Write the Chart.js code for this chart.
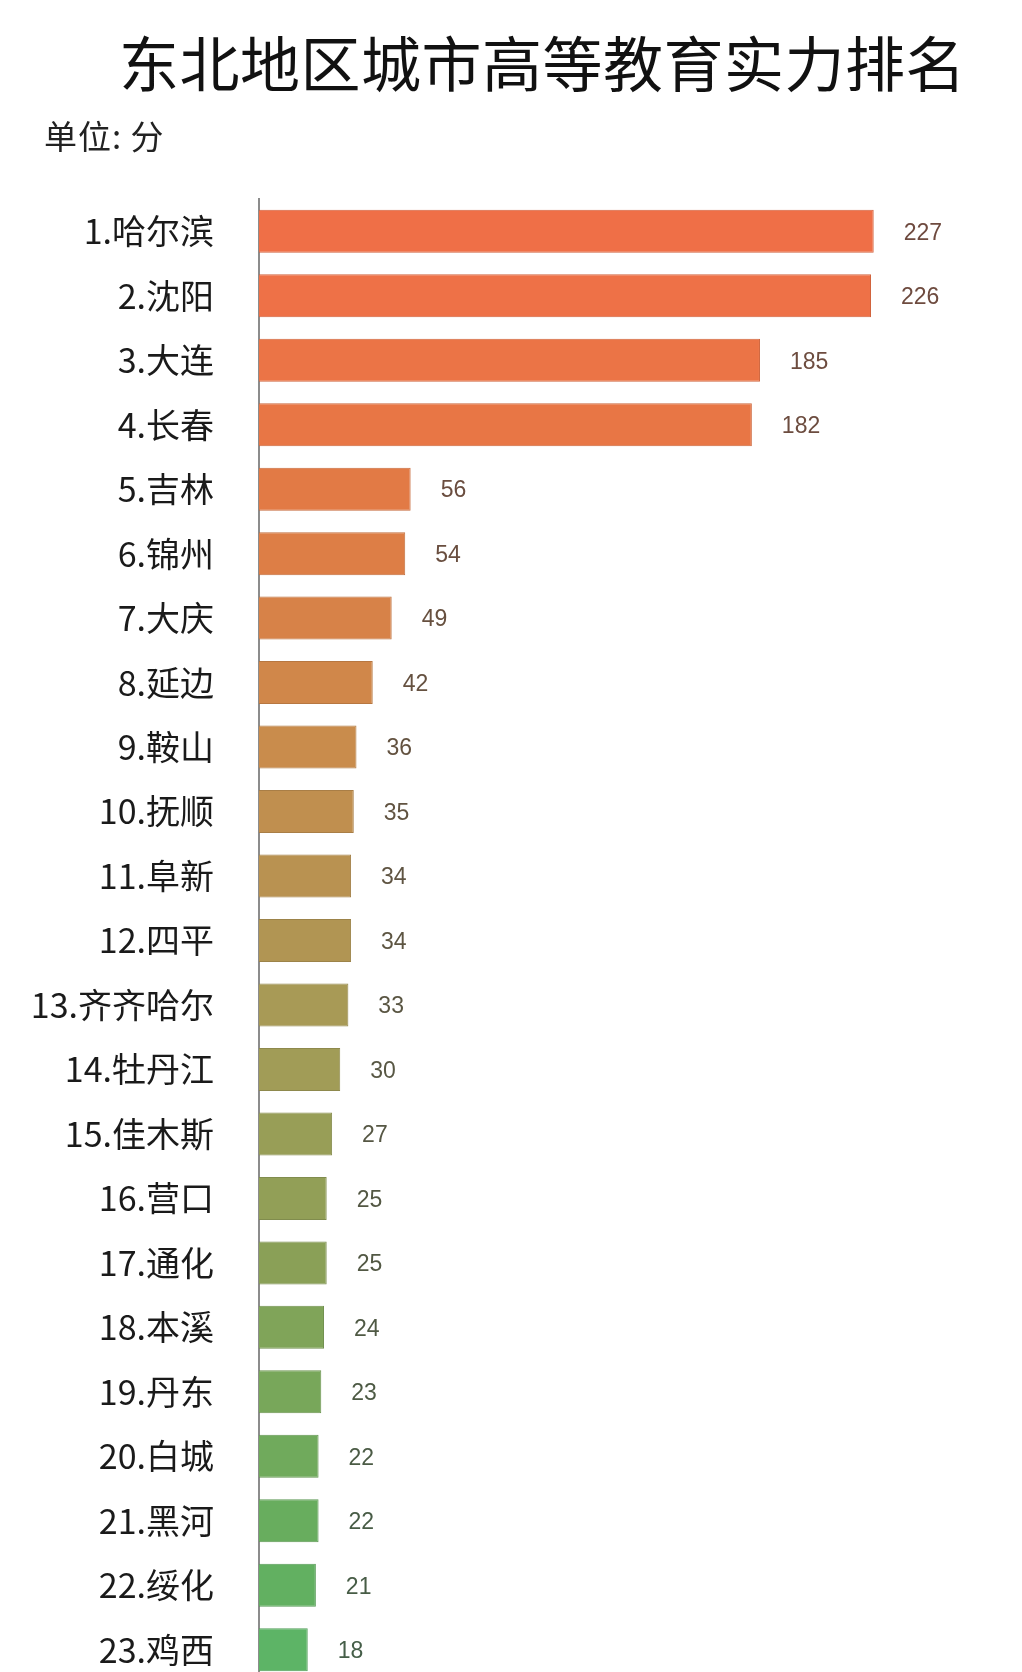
<!DOCTYPE html>
<html lang="zh">
<head>
  <meta charset="UTF-8">
  <title>东北地区城市高等教育实力排名</title>
  <script src="https://cdn.jsdelivr.net/npm/chart.js"></script>
  <style>
    html, body { margin: 0; padding: 0; background: #fff; overflow: hidden; }
    #wrap { position: relative; width: 1022px; height: 1672px; overflow: hidden; }
    #title {
      position: absolute; left: 119px; top: 30px;
      font: 400 60px/61px "Noto Sans CJK SC", sans-serif; color: #111;
      letter-spacing: 0.5px; white-space: nowrap;
    }
    #unit {
      position: absolute; left: 44px; top: 118px;
      font: 400 33px/35px "Noto Sans CJK SC", sans-serif; color: #222;
      letter-spacing: 1px;
    }
    #rankChart { position: absolute; left: 0; top: 0; }
  </style>
</head>
<body>
<div id="wrap">
  <canvas id="rankChart" width="1022" height="1690"></canvas>
  <div id="title">东北地区城市高等教育实力排名</div>
  <div id="unit">单位: 分</div>
</div>

<script>
// data
const cities = [
  '1.哈尔滨', '2.沈阳', '3.大连', '4.长春', '5.吉林', '6.锦州', '7.大庆', '8.延边',
  '9.鞍山', '10.抚顺', '11.阜新', '12.四平', '13.齐齐哈尔', '14.牡丹江', '15.佳木斯',
  '16.营口', '17.通化', '18.本溪', '19.丹东', '20.白城', '21.黑河', '22.绥化', '23.鸡西'
];
const scores = [227, 226, 185, 182, 56, 54, 49, 42, 36, 35, 34, 34, 33, 30, 27, 25, 25, 24, 23, 22, 22, 21, 18];

// bar colours, orange at the top fading to green at the bottom
const barColors = [
  '#EF6F47', '#EE7147', '#EB7446', '#E87645', '#E27A45', '#DD7E46', '#D78248', '#D0874A',
  '#C98C4C', '#C08F4F', '#B99251', '#B19553', '#A89A56', '#A19C57', '#989E57', '#929F57',
  '#8AA057', '#80A459', '#78A75A', '#70AA5C', '#68AD5E', '#62B061', '#5DB466'
];

function mix(hex, other, t) {
  const a = parseInt(hex.slice(1), 16), b = parseInt(other.slice(1), 16);
  const ch = s => Math.round(((a >> s) & 255) * (1 - t) + ((b >> s) & 255) * t);
  return 'rgb(' + ch(16) + ',' + ch(8) + ',' + ch(0) + ')';
}

// value labels to the right of each bar
const valueLabels = {
  id: 'valueLabels',
  afterDatasetsDraw(chart) {
    const ctx = chart.ctx;
    const meta = chart.getDatasetMeta(0);
    ctx.save();
    ctx.font = '23px "Liberation Sans", Arial, sans-serif';
    ctx.textAlign = 'left';
    ctx.textBaseline = 'middle';
    meta.data.forEach((bar, i) => {
      ctx.fillStyle = mix(barColors[i], '#3c3c3c', 0.72);
      ctx.fillText(String(scores[i]), bar.x + 30, bar.y + 2);
    });
    ctx.restore();
  }
};

const ctx = document.getElementById('rankChart').getContext('2d');
new Chart(ctx, {
  type: 'bar',
  data: {
    labels: cities,
    datasets: [{
      data: scores,
      backgroundColor: barColors,
      borderColor: barColors.map(c => mix(c, '#000000', 0.12)),
      borderWidth: 1,
      borderSkipped: 'left',
      categoryPercentage: 1,
      barPercentage: 0.667
    }]
  },
  options: {
    indexAxis: 'y',
    responsive: false,
    animation: false,
    layout: { padding: { left: 0, right: 86, top: 199, bottom: 8 } },
    plugins: {
      legend: { display: false },
      tooltip: { enabled: false }
    },
    scales: {
      x: { display: false, min: 0, max: 250 },
      y: {
        grid: { display: false, drawTicks: false },
        border: { display: true, color: '#8c8c8c', width: 2 },
        ticks: {
          color: '#1a1a1a',
          padding: 45,
          font: { family: '"Noto Sans CJK SC", sans-serif', size: 34 }
        },
        afterFit(scale) {
          scale.width = 259;
          scale.paddingTop = 0;
          scale.paddingBottom = 0;
        }
      }
    }
  },
  plugins: [valueLabels]
});
</script>
</body>
</html>
